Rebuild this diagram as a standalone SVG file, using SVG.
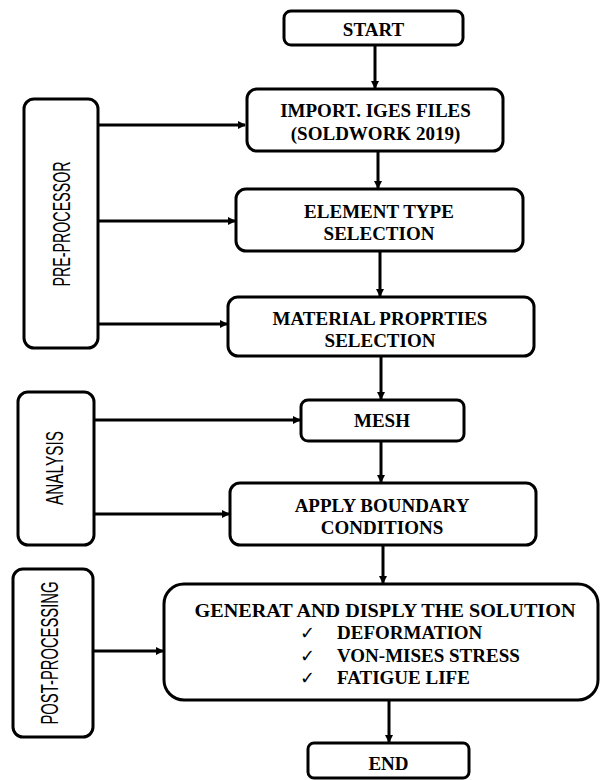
<svg xmlns="http://www.w3.org/2000/svg" width="601" height="780" viewBox="0 0 601 780">
<defs>
<marker id="ah" markerWidth="8" markerHeight="8" refX="7" refY="4" orient="auto" markerUnits="userSpaceOnUse">
<path d="M0,0 L8,4 L0,8 Z" fill="#000"/>
</marker>
<style>
.box{fill:#fff;stroke:#000;stroke-width:3}
.t{font-family:"Liberation Serif","Times New Roman",serif;font-weight:bold;font-size:19px;fill:#000;text-anchor:middle}
.ti{font-family:"Liberation Serif","Times New Roman",serif;font-weight:bold;font-size:19px;fill:#000}
.ck{font-family:"DejaVu Sans",sans-serif;font-size:18px;fill:#000}
.s{font-family:"Liberation Sans",Arial,sans-serif;font-size:23px;fill:#000;text-anchor:middle}
.c{fill:none;stroke:#000;stroke-width:3}
.ca{fill:none;stroke:#000;stroke-width:3;marker-end:url(#ah)}
</style>
</defs>
<rect width="601" height="780" fill="#fff"/>
<g id="connectors">
<line class="ca" x1="375" y1="45" x2="375" y2="88"/>
<line class="ca" x1="378" y1="151" x2="378" y2="188"/>
<line class="ca" x1="380" y1="251" x2="380" y2="296"/>
<line class="ca" x1="381" y1="356" x2="381" y2="399"/>
<line class="ca" x1="381" y1="441" x2="381" y2="482"/>
<line class="ca" x1="383" y1="545" x2="383" y2="583"/>
<line class="ca" x1="389" y1="700" x2="389" y2="742"/>
<line class="ca" x1="98" y1="125" x2="245" y2="125"/>
<line class="ca" x1="98" y1="221" x2="235" y2="221"/>
<line class="ca" x1="98" y1="324" x2="227" y2="324"/>
<line class="ca" x1="94" y1="420" x2="300" y2="420"/>
<line class="ca" x1="94" y1="514" x2="229" y2="514"/>
<line class="ca" x1="93" y1="651" x2="163" y2="651"/>
</g>
<g id="start">
<rect class="box" x="284" y="11" width="179" height="34" rx="7"/>
<text class="t" x="373.5" y="36" font-size="18">START</text>
</g>
<g id="import">
<rect class="box" x="247" y="89" width="256" height="62" rx="10"/>
<text class="t" x="375.5" y="117">IMPORT. IGES FILES</text>
<text class="t" x="375.5" y="140">(SOLDWORK 2019)</text>
</g>
<g id="element">
<rect class="box" x="236" y="189" width="287" height="62" rx="10"/>
<text class="t" x="379" y="218">ELEMENT TYPE</text>
<text class="t" x="379" y="240">SELECTION</text>
</g>
<g id="material">
<rect class="box" x="228" y="297" width="306" height="59" rx="10"/>
<text class="t" x="380" y="325">MATERIAL PROPRTIES</text>
<text class="t" x="380" y="347">SELECTION</text>
</g>
<g id="mesh">
<rect class="box" x="301" y="400" width="163" height="41" rx="7"/>
<text class="t" x="382" y="427">MESH</text>
</g>
<g id="apply">
<rect class="box" x="230" y="483" width="306" height="62" rx="10"/>
<text class="t" x="382" y="512">APPLY BOUNDARY</text>
<text class="t" x="382" y="534">CONDITIONS</text>
</g>
<g id="generate">
<rect class="box" x="164" y="584" width="434" height="116" rx="20"/>
<text class="t" x="385" y="617" font-size="20" textLength="381" lengthAdjust="spacingAndGlyphs">GENERAT AND DISPLY THE SOLUTION</text>
<text class="ck" x="300" y="639">✓</text>
<text class="ck" x="300" y="662">✓</text>
<text class="ck" x="300" y="684">✓</text>
<text class="ti" x="337" y="639">DEFORMATION</text>
<text class="ti" x="337" y="662">VON-MISES STRESS</text>
<text class="ti" x="337" y="684">FATIGUE LIFE</text>
</g>
<g id="end">
<rect class="box" x="308" y="743" width="161" height="35" rx="6"/>
<text class="t" x="388.5" y="770">END</text>
</g>
<g id="pre-processor">
<rect class="box" x="24" y="99" width="74" height="249" rx="10"/>
<text class="s" transform="translate(70,224) rotate(-90)" textLength="125" lengthAdjust="spacingAndGlyphs">PRE-PROCESSOR</text>
</g>
<g id="analysis">
<rect class="box" x="18" y="392" width="76" height="153" rx="10"/>
<text class="s" transform="translate(63,468) rotate(-90)" textLength="74" lengthAdjust="spacingAndGlyphs">ANALYSIS</text>
</g>
<g id="post-processing">
<rect class="box" x="13" y="569" width="80" height="168" rx="10"/>
<text class="s" transform="translate(58,653) rotate(-90)" textLength="143" lengthAdjust="spacingAndGlyphs">POST-PROCESSING</text>
</g>
</svg>
